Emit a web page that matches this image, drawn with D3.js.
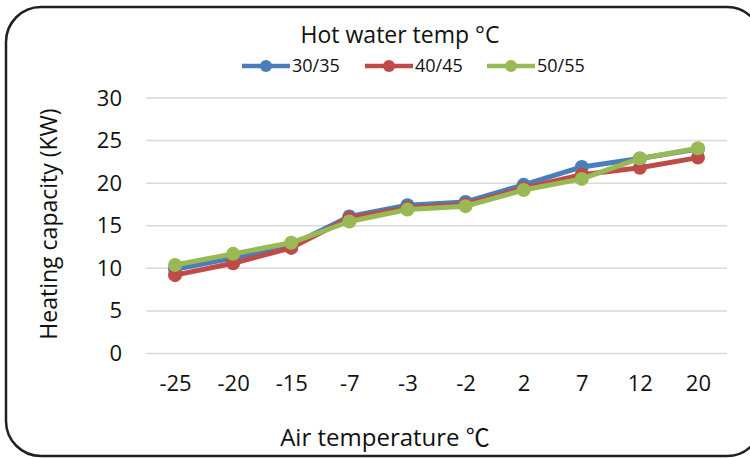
<!DOCTYPE html>
<html>
<head>
<meta charset="utf-8">
<script src="https://cdn.jsdelivr.net/npm/d3@7"></script>
<style>
  html, body { margin: 0; padding: 0; background: #fff; }
  svg { display: block; font-family: "Open Sans", "Noto Sans", sans-serif; }
</style>
</head>
<body>
<svg id="chart" width="750" height="458"></svg>
<script>
const categories = ["-25", "-20", "-15", "-7", "-3", "-2", "2", "7", "12", "20"];
const series1Name = "30/35";
const series1Values = [9.9, 11.2, 12.7, 16.1, 17.4, 17.8, 19.8, 21.9, 22.9, 24.0];
const series2Name = "40/45";
const series2Values = [9.2, 10.6, 12.4, 15.9, 17.1, 17.5, 19.4, 21.0, 21.8, 23.0];
const series3Name = "50/55";
const series3Values = [10.4, 11.7, 13.0, 15.5, 16.9, 17.3, 19.2, 20.5, 22.9, 24.1];
const yTicks = [0, 5, 10, 15, 20, 25, 30];
const legendTitle = "Hot water temp \u00B0C";
const xTitle = "Air temperature ";
const xTitleUnit = "\u2103";
const yTitle = "Heating capacity (KW)";

const seriesList = [
  { name: series1Name, values: series1Values, color: "#4a7ebb" },
  { name: series2Name, values: series2Values, color: "#be4b48" },
  { name: series3Name, values: series3Values, color: "#98b954" }
];

const textColor = "#111";
const svg = d3.select("#chart");

// rounded frame
svg.append("rect")
  .attr("x", 6).attr("y", 7).attr("width", 756).attr("height", 449)
  .attr("rx", 35).attr("ry", 35)
  .attr("fill", "#fff").attr("stroke", "#231f20").attr("stroke-width", 2.5);

const x = d3.scalePoint().domain(categories).range([146, 727]).padding(0.5);
const y = d3.scaleLinear().domain([0, 30]).range([353.5, 98]);

// gridlines
svg.append("g").selectAll("line").data(yTicks).join("line")
  .attr("x1", 146).attr("x2", 727)
  .attr("y1", d => y(d)).attr("y2", d => y(d))
  .attr("stroke", "#d9d9d9").attr("stroke-width", 1.5);

// y axis
const yAxis = d3.axisLeft(y).tickValues(yTicks).tickSize(0).tickPadding(0);
const gy = svg.append("g").attr("transform", "translate(122,0)").call(yAxis);
gy.select(".domain").remove();
gy.selectAll("text").attr("font-size", 22).attr("fill", textColor)
  .attr("font-family", "'Open Sans', sans-serif");

// x axis
const xAxis = d3.axisBottom(x).tickSize(0).tickPadding(0);
const gx = svg.append("g").attr("transform", "translate(0,375)").call(xAxis);
gx.select(".domain").remove();
gx.selectAll("text").attr("font-size", 22).attr("fill", textColor)
  .attr("font-family", "'Open Sans', sans-serif");

// titles
const xt = svg.append("text").attr("x", 385).attr("y", 446).attr("text-anchor", "middle")
  .attr("font-size", 24).attr("fill", textColor);
xt.append("tspan").text(xTitle);
xt.append("tspan").attr("font-family", "'Noto Sans CJK SC', sans-serif").text(xTitleUnit);
svg.append("text").attr("transform", "translate(57,224) rotate(-90)")
  .attr("text-anchor", "middle").attr("font-size", 23).attr("fill", textColor).text(yTitle);

// lines
const line = d3.line().x((d, i) => x(categories[i])).y(d => y(d));
const gs = svg.append("g");
seriesList.forEach(s => {
  const g = gs.append("g");
  g.append("path").datum(s.values).attr("d", line)
    .attr("fill", "none").attr("stroke", s.color).attr("stroke-width", 5)
    .attr("stroke-linejoin", "round");
  g.selectAll("circle").data(s.values).join("circle")
    .attr("cx", (d, i) => x(categories[i])).attr("cy", d => y(d))
    .attr("r", 7).attr("fill", s.color);
});

// legend
svg.append("text").attr("x", 400).attr("y", 43).attr("text-anchor", "middle")
  .attr("font-size", 23).attr("fill", textColor).text(legendTitle);
const legX = [242, 365, 487];
seriesList.forEach((s, i) => {
  const g = svg.append("g").attr("transform", `translate(${legX[i]},66)`);
  g.append("line").attr("x1", 0).attr("x2", 48).attr("y1", 0).attr("y2", 0)
    .attr("stroke", s.color).attr("stroke-width", 4.5);
  g.append("circle").attr("cx", 24).attr("cy", 0).attr("r", 6).attr("fill", s.color);
  g.append("text").attr("x", 50).attr("y", 0).attr("dy", "0.35em")
    .attr("font-size", 18).attr("fill", textColor).text(s.name);
});
</script>
</body>
</html>
